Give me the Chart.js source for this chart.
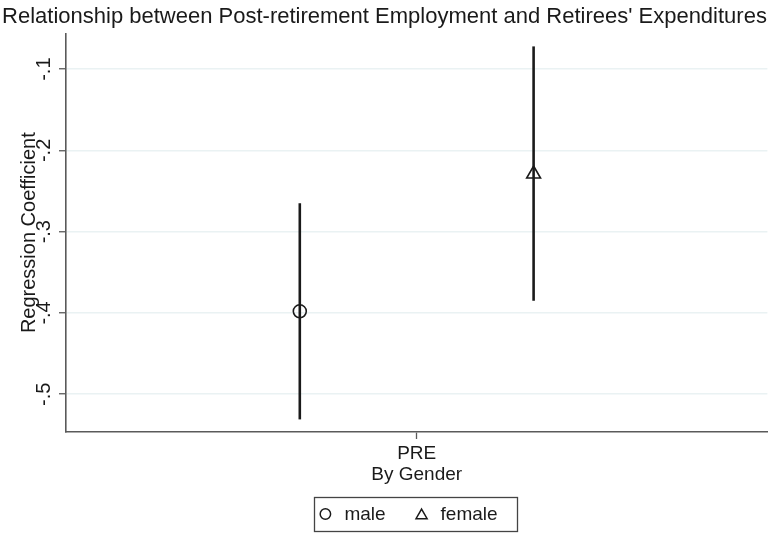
<!DOCTYPE html>
<html>
<head>
<meta charset="utf-8">
<script src="https://cdn.jsdelivr.net/npm/chart.js@4/dist/chart.umd.min.js"></script>
<style>
  html, body { margin: 0; padding: 0; background: #fff; }
  #wrap { width: 777px; height: 534px; }
</style>
</head>
<body>
<div id="wrap"><canvas id="c" width="777" height="534"></canvas></div>
<script>
// Coefficient estimates with 95% confidence intervals, by gender
const groups = ['PRE'];
const seriesNames = ['male', 'female'];
const estimates = [-0.398, -0.229];
const lowerCI = [-0.531, -0.385];
const upperCI = [-0.265, -0.072];
const yTicks = [-0.5, -0.4, -0.3, -0.2, -0.1];
const yTickLabels = ['-.5', '-.4', '-.3', '-.2', '-.1'];

const FONT = '"Liberation Sans", Arial, Helvetica, sans-serif';
const INK = '#1a1a1a';
const AXIS = '#5a5a5a';
const GRID = '#eaf2f3';

// horizontal placement of each series around its group
const seriesOffset = [-0.5, 0.5];
const markerStyle = ['circle', 'triangle'];
const markerRadius = [6.5, 8];
const keyRadius = [5.2, 6.4];

const datasets = seriesNames.map((name, i) => ({
  label: name,
  data: groups.map((g, gi) => ({ x: gi + seriesOffset[i], y: estimates[i] })),
  pointStyle: markerStyle[i],
  pointRadius: markerRadius[i],
  pointHoverRadius: markerRadius[i],
  pointBorderWidth: 1.6,
  pointBorderColor: INK,
  pointBackgroundColor: 'rgba(0,0,0,0)',
  borderColor: INK,
  backgroundColor: 'rgba(0,0,0,0)',
  showLine: false
}));

// vertical confidence-interval spikes, drawn beneath the markers
const ciSpikes = {
  id: 'ciSpikes',
  beforeDatasetsDraw(chart) {
    const { ctx, scales: { x, y } } = chart;
    ctx.save();
    ctx.strokeStyle = INK;
    ctx.lineWidth = 2.6;
    ctx.lineCap = 'butt';
    seriesNames.forEach((_, i) => {
      groups.forEach((g, gi) => {
        const px = x.getPixelForValue(gi + seriesOffset[i]);
        ctx.beginPath();
        ctx.moveTo(px, y.getPixelForValue(lowerCI[i]));
        ctx.lineTo(px, y.getPixelForValue(upperCI[i]));
        ctx.stroke();
      });
    });
    ctx.restore();
  }
};

// rotated y tick labels and axis title
const yLabels = {
  id: 'yLabels',
  afterDraw(chart) {
    const { ctx, scales: { y }, chartArea } = chart;
    ctx.save();
    ctx.fillStyle = INK;
    ctx.font = '20px ' + FONT;
    ctx.textAlign = 'center';
    ctx.textBaseline = 'middle';
    yTicks.forEach((v, i) => {
      ctx.save();
      ctx.translate(chartArea.left - 22, y.getPixelForValue(v));
      ctx.rotate(-Math.PI / 2);
      ctx.fillText(yTickLabels[i], 0, 0);
      ctx.restore();
    });
    ctx.translate(chartArea.left - 37, (chartArea.top + chartArea.bottom) / 2);
    ctx.rotate(-Math.PI / 2);
    ctx.fillText('Regression Coefficient', 0, 0);
    ctx.restore();
  }
};

// framed key below the axis: symbol, label, symbol, label
const keyBox = {
  id: 'keyBox',
  afterDraw(chart) {
    const { ctx, chartArea } = chart;
    const padL = 6, padR = 8, keyToText = 19, itemGap = 36;
    const top = chartArea.bottom + 65, bottom = chartArea.bottom + 99;
    const midY = (top + bottom) / 2;
    ctx.save();
    ctx.font = '19px ' + FONT;
    const widths = seriesNames.map(n => ctx.measureText(n).width);
    let total = padL + padR;
    seriesNames.forEach((n, i) => {
      total += keyRadius[i] + keyToText + widths[i] + (i ? itemGap : keyRadius[i]);
    });
    const left = (chartArea.left + chartArea.right) / 2 - total / 2 - 1;
    ctx.strokeStyle = '#444';
    ctx.lineWidth = 1.3;
    ctx.strokeRect(Math.round(left) + 0.5, Math.round(top) + 0.5, Math.round(total), Math.round(bottom - top));
    let x = left + padL;
    ctx.textAlign = 'left';
    ctx.textBaseline = 'middle';
    seriesNames.forEach((n, i) => {
      const cx = i === 0 ? x + keyRadius[i] : x + itemGap;
      ctx.fillStyle = 'rgba(0,0,0,0)';
      ctx.strokeStyle = INK;
      ctx.lineWidth = 1.5;
      Chart.helpers.drawPoint(ctx, {
        pointStyle: markerStyle[i], radius: keyRadius[i], rotation: 0, borderWidth: 1.5
      }, cx, midY + (markerStyle[i] === 'triangle' ? 1.5 : 0));
      ctx.fillStyle = INK;
      ctx.fillText(n, cx + keyToText, midY + 1);
      x = cx + keyToText + widths[i];
    });
    ctx.restore();
  }
};

new Chart(document.getElementById('c'), {
  type: 'scatter',
  data: { datasets },
  options: {
    responsive: false,
    animation: false,
    devicePixelRatio: 1,
    layout: { padding: { left: 0, right: 8, top: 0, bottom: 39 } },
    plugins: {
      title: {
        display: true,
        text: "Relationship between Post-retirement Employment and Retirees' Expenditures",
        color: INK,
        font: { family: FONT, size: 22, weight: 'normal' },
        padding: { top: 4, bottom: 3 }
      },
      legend: { display: false },
      tooltip: { enabled: false }
    },
    scales: {
      x: {
        type: 'linear',
        min: -1.5,
        max: 1.5,
        afterBuildTicks: s => { s.ticks = groups.map((g, i) => ({ value: i })); },
        afterFit: s => { s.height = 63; },
        ticks: {
          callback: v => groups[v] ?? '',
          color: INK,
          font: { family: FONT, size: 19 },
          padding: 3,
          maxRotation: 0
        },
        grid: { drawOnChartArea: false, drawTicks: true, tickLength: 7, tickColor: AXIS, tickWidth: 1.3 },
        border: { color: AXIS, width: 1.6 },
        title: {
          display: true,
          text: 'By Gender',
          color: INK,
          font: { family: FONT, size: 19 },
          padding: { top: 0, bottom: 9 }
        }
      },
      y: {
        type: 'linear',
        min: -0.5465,
        max: -0.056,
        afterBuildTicks: s => { s.ticks = yTicks.map(v => ({ value: v })); },
        afterFit: s => { s.width = 66; },
        ticks: { display: false },
        grid: { color: GRID, lineWidth: 1.5, tickLength: 7, tickColor: AXIS, tickWidth: 1.3 },
        border: { color: AXIS, width: 1.6 }
      }
    }
  },
  plugins: [ciSpikes, yLabels, keyBox]
});
</script>
</body>
</html>
